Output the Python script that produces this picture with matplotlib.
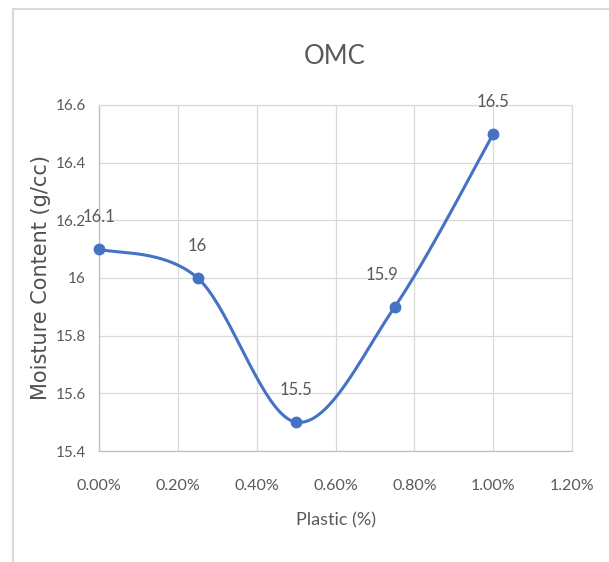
import numpy as np
import matplotlib.pyplot as plt
from matplotlib.lines import Line2D
from matplotlib.ticker import FuncFormatter

# OMC vs plastic content
plastic = [0.0, 0.25, 0.5, 0.75, 1.0]      # %
omc = [16.1, 16.0, 15.5, 15.9, 16.5]         # moisture content
x_ticks = [0.0, 0.2, 0.4, 0.6, 0.8, 1.0, 1.2]
y_ticks = [15.4, 15.6, 15.8, 16.0, 16.2, 16.4, 16.6]

blue = '#4472C4'
grid_col = '#D9D9D9'
txt_col = '#595959'
lab_font = ['Lato', 'DejaVu Sans']


def smooth_curve(ax, xs, ys, n=40):
    """Excel style smoothed line: cubic Bezier with Catmull-Rom controls, in screen space."""
    pts = ax.transData.transform(np.column_stack([xs, ys]))
    out = []
    for i in range(len(pts) - 1):
        p0 = pts[i - 1] if i > 0 else pts[i]
        p1 = pts[i]
        p2 = pts[i + 1]
        p3 = pts[i + 2] if i + 2 < len(pts) else pts[i + 1]
        c1 = p1 + (p2 - p0) / 6
        c2 = p2 - (p3 - p1) / 6
        t = np.linspace(0, 1, n)[:, None]
        seg = ((1 - t) ** 3 * p1 + 3 * (1 - t) ** 2 * t * c1
               + 3 * (1 - t) * t ** 2 * c2 + t ** 3 * p2)
        out.append(seg if i == 0 else seg[1:])
    out = np.vstack(out)
    return ax.transData.inverted().transform(out)


fig = plt.figure(figsize=(6.09, 5.62), dpi=100)
ax = fig.add_axes([0.1626, 0.1975, 0.777, 0.6157])

ax.set_xlim(0, 1.2)
ax.set_ylim(15.4, 16.6)
ax.set_xticks(x_ticks)
ax.set_yticks(y_ticks)
ax.xaxis.set_major_formatter(FuncFormatter(lambda v, p: f'{v:.2f}%'))
ax.yaxis.set_major_formatter(FuncFormatter(lambda v, p: f'{v:g}'))
ax.grid(True, color=grid_col, lw=0.9)
ax.set_axisbelow(True)
for s in ax.spines.values():
    s.set_color(grid_col)
    s.set_linewidth(0.9)
ax.spines['left'].set_color('#BFBFBF')
ax.spines['bottom'].set_color('#BFBFBF')
ax.tick_params(length=0, colors=txt_col, labelsize=11.5)
ax.tick_params(axis='y', labelsize=11)
for lbl in ax.get_xticklabels() + ax.get_yticklabels():
    lbl.set_family(lab_font)
ax.tick_params(axis='x', pad=20)
ax.tick_params(axis='y', pad=9.5)

curve = smooth_curve(ax, plastic, omc)
ax.plot(curve[:, 0], curve[:, 1], color=blue, lw=2.2, clip_on=False, zorder=3)
ax.plot(plastic, omc, 'o', color=blue, ms=7.5, clip_on=False, zorder=4)

label_dx = [0, 0, 0, -9, 0]
for x, y, dx in zip(plastic, omc, label_dx):
    ax.annotate(f'{y:g}', (x, y), xytext=(dx, 23), textcoords='offset points',
                ha='center', va='center', fontsize=12, color=txt_col,
                family=lab_font)

fig.text(0.549, 0.900, 'OMC', ha='center', va='center', fontsize=18.5,
         color=txt_col, family=lab_font)
ax.set_xlabel('Plastic (%)', fontsize=13, color=txt_col, family=lab_font, labelpad=14)
ax.set_ylabel('Moisture Content (g/cc)', fontsize=15, color='#505050',
              family='DejaVu Sans')
ax.yaxis.set_label_coords((51 - 99) / 473, 0.5)

# chart area border
fig.add_artist(Line2D([13 / 609, 13 / 609], [0, 1 - 9 / 562], color=grid_col,
                      lw=1.5, transform=fig.transFigure))
fig.add_artist(Line2D([13 / 609, 1], [1 - 9 / 562, 1 - 9 / 562], color=grid_col,
                      lw=1.5, transform=fig.transFigure))

fig.savefig('out.png', dpi=100, facecolor='white')
